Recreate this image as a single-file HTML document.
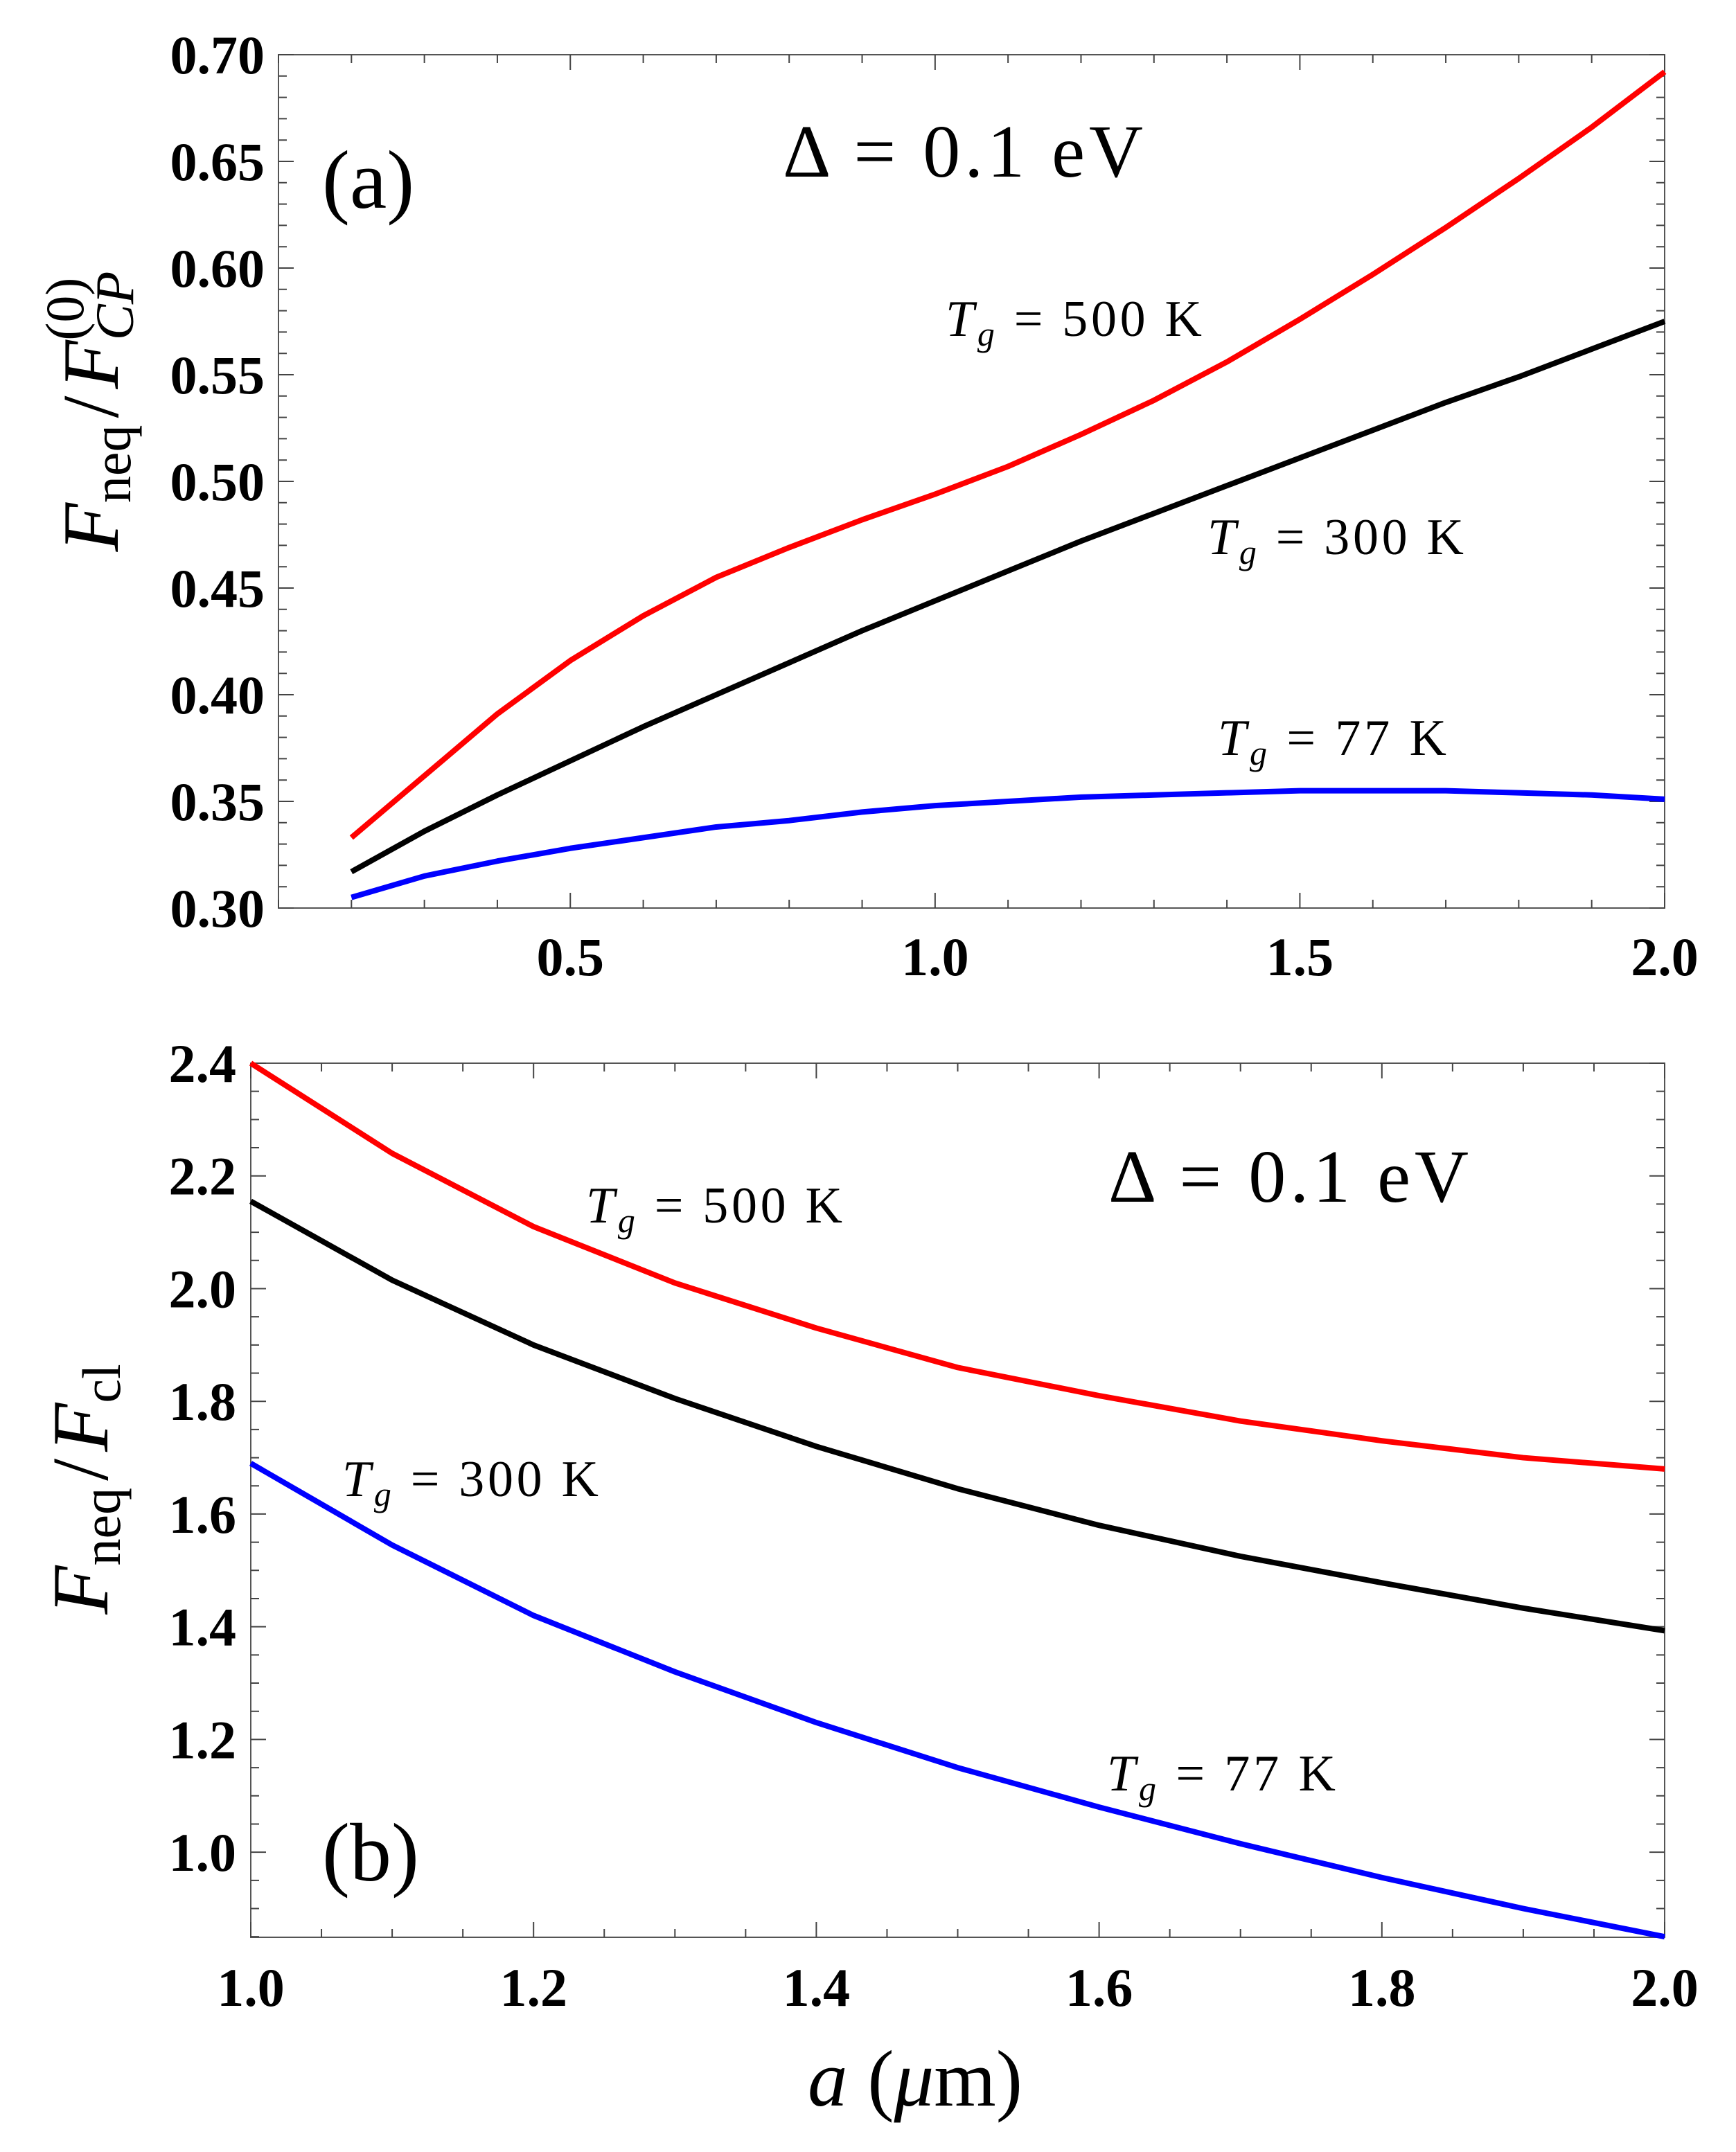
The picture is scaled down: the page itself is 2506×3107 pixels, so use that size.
<!DOCTYPE html>
<html><head><meta charset="utf-8"><style>
html,body{margin:0;padding:0;background:#fff;}
svg{display:block;}
.tl{font-family:"Liberation Serif",serif;font-weight:bold;font-size:78px;fill:#000;}
.an{font-family:"Liberation Serif",serif;fill:#000;}
</style></head><body>
<svg id="fig" width="2506" height="3107" viewBox="0 0 2506 3107" xmlns="http://www.w3.org/2000/svg">
<g id="pa"></g>
<g id="pb"></g>
<text class="an" x="1130" y="255" font-size="108" textLength="520">Δ = 0.1 eV</text>
<text class="an" x="465" y="300" font-size="120">(a)</text>
<text class="an" x="1365" y="485" font-size="74" textLength="370"><tspan font-style="italic">T</tspan><tspan font-style="italic" font-size="50" dy="14">g</tspan><tspan dy="-14"> = 500 K</tspan></text>
<text class="an" x="1743" y="800" font-size="74" textLength="370"><tspan font-style="italic">T</tspan><tspan font-style="italic" font-size="50" dy="14">g</tspan><tspan dy="-14"> = 300 K</tspan></text>
<text class="an" x="1758" y="1090" font-size="74" textLength="330"><tspan font-style="italic">T</tspan><tspan font-style="italic" font-size="50" dy="14">g</tspan><tspan dy="-14"> = 77 K</tspan></text>
<text class="an" x="1600" y="1735" font-size="108" textLength="520">Δ = 0.1 eV</text>
<text class="an" x="465" y="2715" font-size="120">(b)</text>
<text class="an" x="846" y="1765" font-size="74" textLength="370"><tspan font-style="italic">T</tspan><tspan font-style="italic" font-size="50" dy="14">g</tspan><tspan dy="-14"> = 500 K</tspan></text>
<text class="an" x="494" y="2160" font-size="74" textLength="370"><tspan font-style="italic">T</tspan><tspan font-style="italic" font-size="50" dy="14">g</tspan><tspan dy="-14"> = 300 K</tspan></text>
<text class="an" x="1598" y="2585" font-size="74" textLength="330"><tspan font-style="italic">T</tspan><tspan font-style="italic" font-size="50" dy="14">g</tspan><tspan dy="-14"> = 77 K</tspan></text>
<text class="an" transform="translate(170,594) rotate(-90)" text-anchor="middle" font-size="115"><tspan font-style="italic">F</tspan><tspan font-size="78" dy="18">neq</tspan><tspan dy="-18" dx="10">/</tspan><tspan dx="10" font-style="italic">F</tspan><tspan font-size="78" dy="22" font-style="italic">CP</tspan><tspan font-size="78" dx="-100" dy="-72">(0)</tspan></text>
<text class="an" transform="translate(155,2150) rotate(-90)" text-anchor="middle" font-size="115"><tspan font-style="italic">F</tspan><tspan font-size="78" dy="18">neq</tspan><tspan dy="-18" dx="10">/</tspan><tspan dx="10" font-style="italic">F</tspan><tspan font-size="78" dy="18">cl</tspan></text>
<text class="an" x="1321" y="3040" text-anchor="middle" font-size="115"><tspan font-style="italic">a</tspan> (<tspan font-style="italic">μ</tspan>m)</text>
</svg>
<script>
const aX=[0.2,0.3,0.4,0.5,0.6,0.7,0.8,0.9,1.0,1.1,1.2,1.3,1.4,1.5,1.6,1.7,1.8,1.9,2.0];
const aRed=[.333,.362,.391,.416,.437,.455,.469,.482,.494,.507,.522,.538,.556,.576,.597,.619,.642,.666,.692];
const aBlack=[.317,.336,.353,.369,.385,.400,.415,.430,.444,.458,.472,.485,.498,.511,.524,.537,.549,.562,.575];
const aBlue=[.305,.315,.322,.328,.333,.338,.341,.345,.348,.350,.352,.353,.354,.355,.355,.355,.354,.353,.351];
const aXTicks=["0.5","1.0","1.5","2.0"];
const aYTicks=["0.30","0.35","0.40","0.45","0.50","0.55","0.60","0.65","0.70"];
const bX=[1.0,1.1,1.2,1.3,1.4,1.5,1.6,1.7,1.8,1.9,2.0];
const bRed=[2.40,2.24,2.11,2.01,1.93,1.86,1.81,1.765,1.73,1.70,1.68];
const bBlack=[2.155,2.015,1.90,1.805,1.72,1.645,1.58,1.525,1.478,1.433,1.393];
const bBlue=[1.69,1.545,1.42,1.32,1.23,1.15,1.08,1.015,0.955,0.90,0.85];
const bXTicks=["1.0","1.2","1.4","1.6","1.8","2.0"];
const bYTicks=["1.0","1.2","1.4","1.6","1.8","2.0","2.2","2.4"];
const NS="http://www.w3.org/2000/svg";
function mk(g,t,a){const e=document.createElementNS(NS,t);for(const k in a)e.setAttribute(k,a[k]);g.appendChild(e);return e;}
function panel(g,L,R,T,B,x0,x1,y0,y1,xt,yt,xmin,ymin,series,ylabX,xlabY,nm){
  const sx=v=>L+(v-x0)/(x1-x0)*(R-L), sy=v=>B-(v-y0)/(y1-y0)*(B-T);
  const fr=mk(g,'rect',{x:L,y:T,width:R-L,height:B-T,fill:'none',stroke:'#555',"stroke-width":2});
  
  
  let p='';
  const ex=1e-6;
  for(let v=Math.ceil(x0/xmin-ex)*xmin;v<=x1+ex;v+=xmin){
    const mj=xt.some(t=>Math.abs(+t-v)<ex);const l=mj?22:12;const X=sx(v);
    p+=`M${X} ${B}v${-l}M${X} ${T}v${l}`;}
  for(let v=Math.ceil(y0/ymin-ex)*ymin;v<=y1+ex;v+=ymin){
    const mj=yt.some(t=>Math.abs(+t-v)<ex);const l=mj?22:12;const Y=sy(v);
    p+=`M${L} ${Y}h${l}M${R} ${Y}h${-l}`;}
  const tk=mk(g,'path',{d:p,stroke:'#444',"stroke-width":2,fill:'none'});
  
  
  xt.forEach(t=>{const e=mk(g,'text',{x:sx(+t),y:xlabY,'text-anchor':'middle',class:'tl'});e.textContent=t;
    
    });
  yt.forEach(t=>{const e=mk(g,'text',{x:ylabX,y:sy(+t)+27,'text-anchor':'end',class:'tl'});e.textContent=t;
    
    });
  series.forEach(s=>{const d=s.xs.map((x,i)=>(i?'L':'M')+sx(x)+' '+sy(s.ys[i])).join('');
    const e=mk(g,'path',{d,stroke:s.c,"stroke-width":8,fill:'none','stroke-linejoin':'round'});
    
    });
}
panel(document.getElementById('pa'),402,2403,79,1311,0.1,2.0,0.30,0.70,aXTicks,aYTicks,0.1,0.01,
 [{xs:aX,ys:aRed,c:'#f00',n:'line-a-500k'},{xs:aX,ys:aBlack,c:'#000',n:'line-a-300k'},{xs:aX,ys:aBlue,c:'#00f',n:'line-a-77k'}],382,1408,'panel-a');
panel(document.getElementById('pb'),362,2403,1535,2797,1.0,2.0,0.849,2.4,bXTicks,bYTicks,0.05,0.05,
 [{xs:bX,ys:bRed,c:'#f00',n:'line-b-500k'},{xs:bX,ys:bBlack,c:'#000',n:'line-b-300k'},{xs:bX,ys:bBlue,c:'#00f',n:'line-b-77k'}],341,2896,'panel-b');
</script>
</body></html>
